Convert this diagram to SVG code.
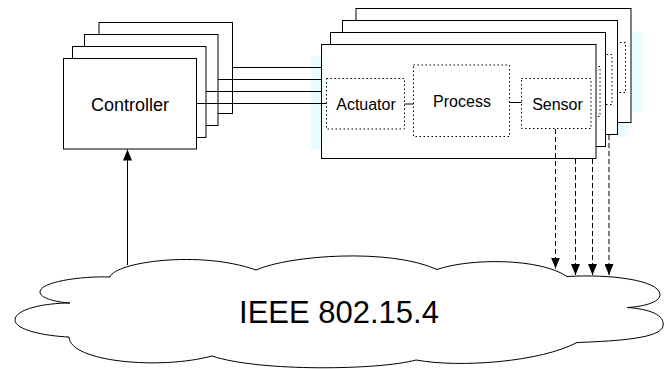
<svg xmlns="http://www.w3.org/2000/svg" width="671" height="369" viewBox="0 0 671 369">
<style>
.box{fill:#fff;stroke:#000;stroke-width:1}
.dot{fill:none;stroke:#000;stroke-width:1;stroke-dasharray:1.5 2.5}
.ln{fill:none;stroke:#000;stroke-width:1}
.dash{fill:none;stroke:#000;stroke-width:1;stroke-dasharray:5 3}
.hl{fill:#E8FCFF;stroke:none}
.t{font-family:"Liberation Sans",Arial,Helvetica,sans-serif;fill:#000;text-anchor:middle}
</style>
<defs>
<marker id="ah" viewBox="0 0 11 9" refX="11" refY="4.5" markerWidth="11" markerHeight="9" markerUnits="userSpaceOnUse" orient="auto">
<path d="M0,0 L11,4.5 L0,9 z" fill="#000"/>
</marker>
</defs>
<rect class="hl" x="311" y="56" width="10.5" height="94"/>
<rect class="hl" x="631.5" y="31.5" width="10.5" height="81"/>
<rect class="hl" x="618" y="123" width="9.5" height="14"/>
<g id="cloud">
<path class="box" d="M110,277 C115,262 200,250 256,270 C290,255 390,248 437,269.5 C470,258 540,258 567,276.5 C610,274 658,280 660,294 C661,303 640,307 627,307.5 C650,309 665,315 663,326 C661,338 620,341 577,342.5 C540,362 460,368 416,360 C380,370 260,372 212,356 C160,370 70,362 69,337 C45,336 15,330 15,320 C15,309 45,303 70,303 C55,302 40,298 40,292 C40,282 80,276 110,277 Z"/>
<text class="t" x="339" y="323" font-size="31">IEEE 802.15.4</text>
</g>
<g id="controller">
<rect class="box" x="99" y="22.5" width="133.5" height="91"/>
<rect class="box" x="84.5" y="34.5" width="133.5" height="91"/>
<rect class="box" x="72.5" y="46.5" width="133.5" height="91"/>
<rect class="box" x="63.5" y="58.5" width="133" height="90.5"/>
<text class="t" x="130" y="111" font-size="18">Controller</text>
</g>
<g id="plant4" transform="translate(34.5,-36)">
<rect class="box" x="321.5" y="44.5" width="275" height="114"/>
<rect class="dot" x="521.5" y="78.5" width="69.5" height="50"/>
</g>
<g id="plant3" transform="translate(21,-24)">
<rect class="box" x="321.5" y="44.5" width="275" height="114"/>
<rect class="dot" x="521.5" y="78.5" width="69.5" height="50"/>
</g>
<g id="plant2" transform="translate(9,-12)">
<rect class="box" x="321.5" y="44.5" width="275" height="114"/>
<rect class="dot" x="521.5" y="78.5" width="69.5" height="50"/>
</g>
<g id="plant1">
<rect class="box" x="321.5" y="44.5" width="274.5" height="114"/>
<g id="actuator">
<rect class="dot" x="326.5" y="78.5" width="78" height="50.5"/>
<text class="t" x="366" y="109.5" font-size="16">Actuator</text>
</g>
<g id="process">
<rect class="dot" x="413.5" y="65" width="96" height="71.5"/>
<text class="t" x="462" y="107" font-size="16">Process</text>
</g>
<g id="sensor">
<rect class="dot" x="521.5" y="78.5" width="69.5" height="50"/>
<text class="t" x="557.5" y="110" font-size="16">Sensor</text>
</g>
</g>
<g id="connectors">
<line class="ln" x1="232.5" y1="67.5" x2="321.5" y2="67.5"/>
<line class="ln" x1="218" y1="79.5" x2="321.5" y2="79.5"/>
<line class="ln" x1="206" y1="91.5" x2="321.5" y2="91.5"/>
<line class="ln" x1="196.5" y1="103.5" x2="326.5" y2="103.5"/>
<line class="ln" x1="404.5" y1="104" x2="413.5" y2="104"/>
<line class="ln" x1="509.5" y1="102.5" x2="521.5" y2="102.5"/>
<line class="ln" x1="127.5" y1="265" x2="127.5" y2="149.5" marker-end="url(#ah)"/>
<line class="dash" x1="555.5" y1="129" x2="555.5" y2="268.5" marker-end="url(#ah)"/>
<line class="dash" x1="575.5" y1="159" x2="575.5" y2="275" marker-end="url(#ah)"/>
<line class="dash" x1="592.5" y1="159" x2="592.5" y2="275" marker-end="url(#ah)"/>
<line class="dash" x1="609" y1="135" x2="609" y2="275" marker-end="url(#ah)"/>
</g>
</svg>
